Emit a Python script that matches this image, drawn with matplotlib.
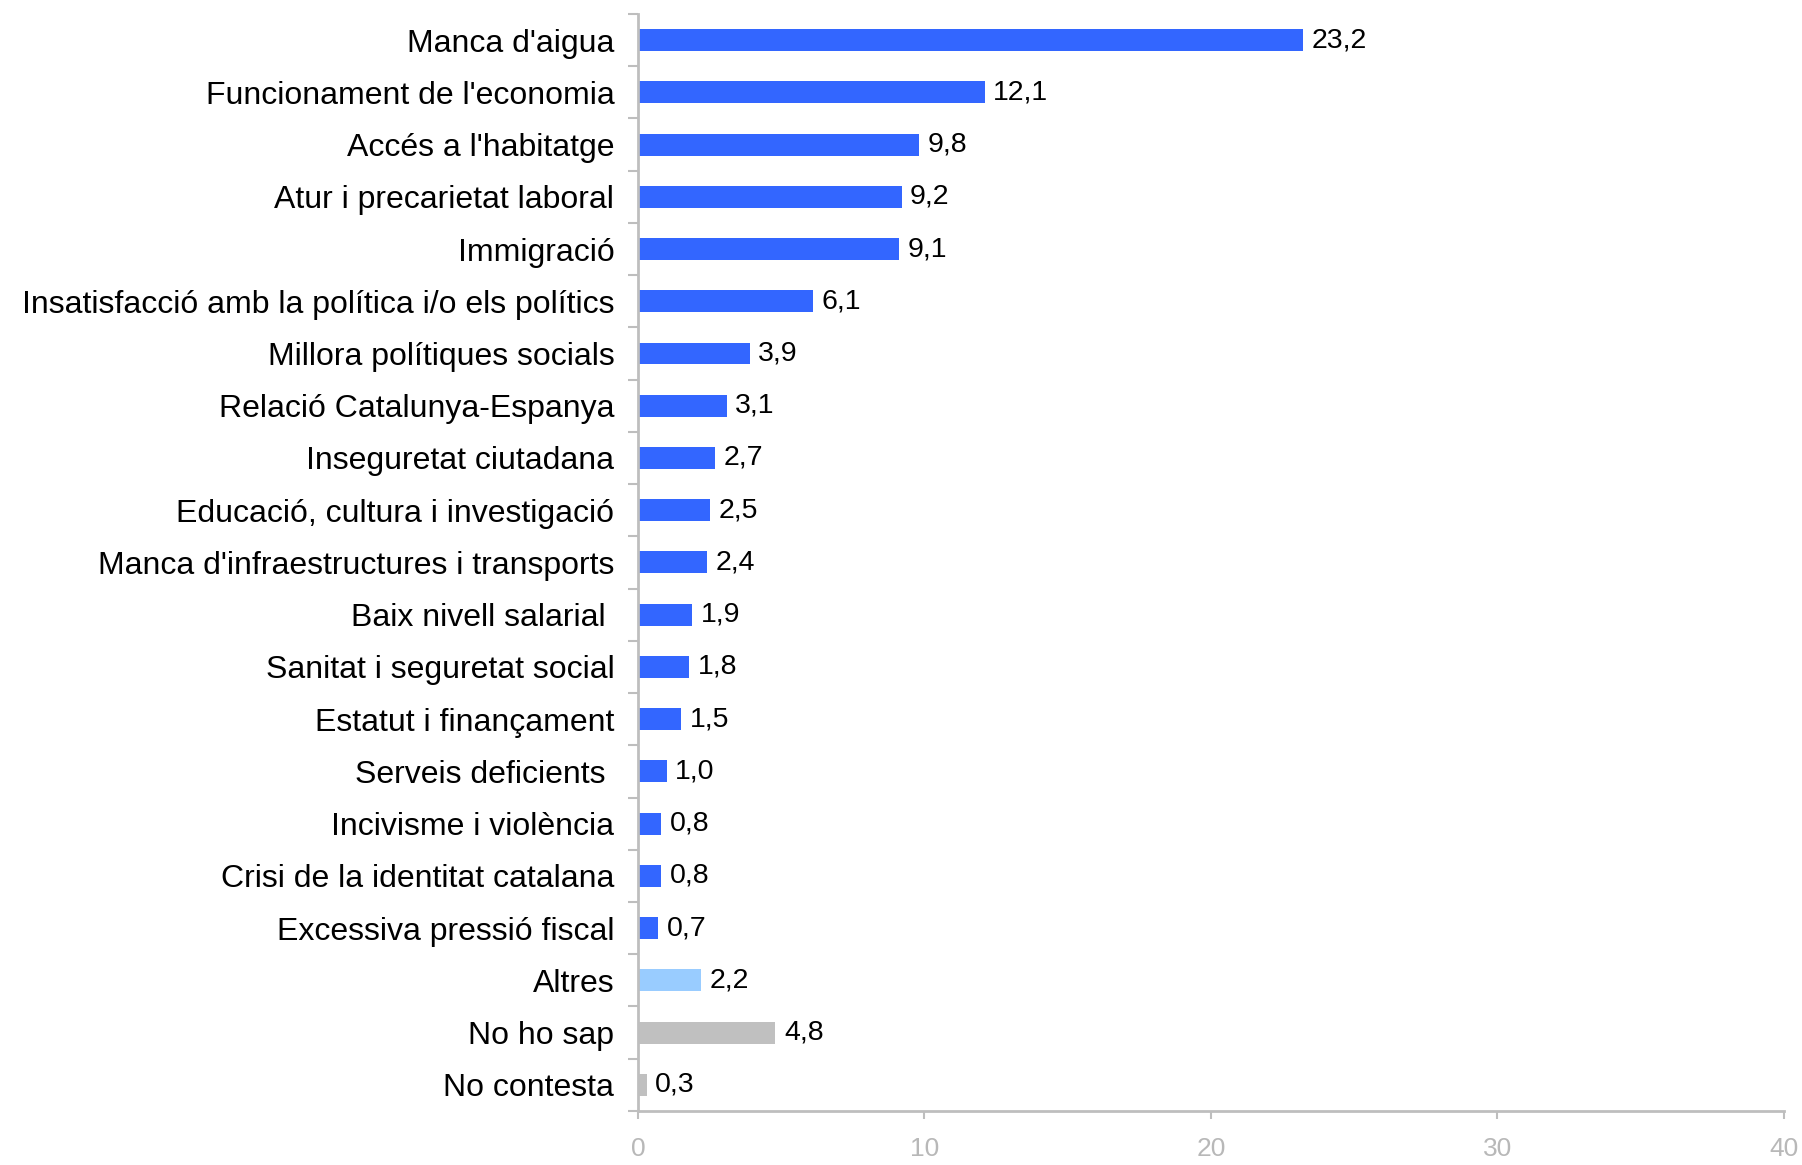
import matplotlib.pyplot as plt
import numpy as np

plt.rcParams['font.family'] = ['Liberation Sans', 'DejaVu Sans']

# categories from top to bottom
categories = ["Manca d'aigua", "Funcionament de l'economia", "Accés a l'habitatge",
              "Atur i precarietat laboral", "Immigració",
              "Insatisfacció amb la política i/o els polítics",
              "Millora polítiques socials", "Relació Catalunya-Espanya",
              "Inseguretat ciutadana", "Educació, cultura i investigació",
              "Manca d'infraestructures i transports", "Baix nivell salarial ",
              "Sanitat i seguretat social", "Estatut i finançament",
              "Serveis deficients ", "Incivisme i violència",
              "Crisi de la identitat catalana", "Excessiva pressió fiscal",
              "Altres", "No ho sap", "No contesta"]
values = [23.2, 12.1, 9.8, 9.2, 9.1, 6.1, 3.9, 3.1, 2.7, 2.5, 2.4, 1.9,
          1.8, 1.5, 1.0, 0.8, 0.8, 0.7, 2.2, 4.8, 0.3]
groups = ['tema'] * 18 + ['altres', 'ns', 'nc']
group_colors = {'tema': '#3366FF', 'altres': '#99CCFF', 'ns': '#C0C0C0', 'nc': '#C0C0C0'}
xticks = [0, 10, 20, 30, 40]

axis_grey = '#BEBEBE'

fig = plt.figure(figsize=(18.02, 11.65), dpi=100)
ax = fig.add_axes([0.354, 0.0464, 0.636, 0.9416])

y = np.arange(len(categories))
colors = [group_colors[g] for g in groups]
ax.barh(y, values, height=0.42, color=colors)

for yi, v in zip(y, values):
    ax.text(v + 0.3, yi, f"{v:.1f}".replace('.', ','), va='center', ha='left',
            fontsize=20.5, color='black')

ax.set_ylim(len(categories) - 0.5, -0.5)
ax.set_xlim(0, 40)
ax.set_yticks(y)
ax.set_yticklabels(categories, fontsize=23)
ax.tick_params(axis='y', which='major', length=0, pad=17)
ax.set_yticks(np.arange(-0.5, len(categories)), minor=True)
ax.tick_params(axis='y', which='minor', length=7, color=axis_grey, width=1.5, direction='out')

ax.set_xticks(xticks)
ax.set_xticklabels([str(t) for t in xticks], fontsize=19, color='#B8B8B8')
ax.tick_params(axis='x', length=6, color=axis_grey, width=1.5, pad=13)

for side in ['top', 'right']:
    ax.spines[side].set_visible(False)
for side in ['left', 'bottom']:
    ax.spines[side].set_color(axis_grey)
    ax.spines[side].set_linewidth(2)

plt.savefig('out.png', dpi=100)
